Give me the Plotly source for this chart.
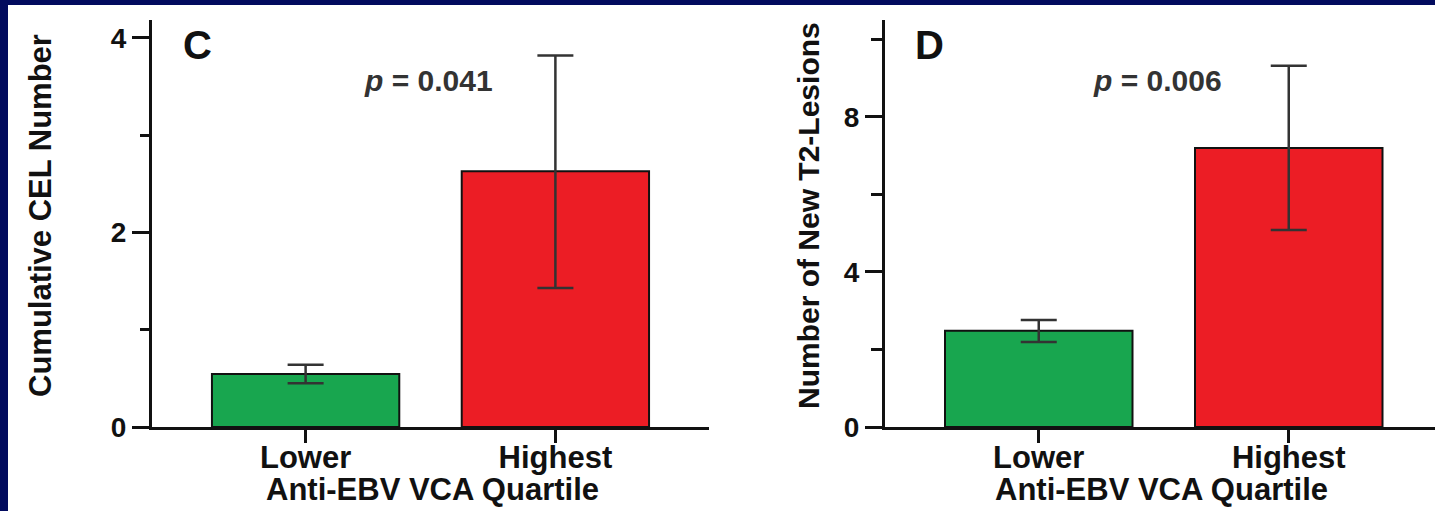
import plotly.graph_objects as go

W, H = 1435, 511

categories = ["Lower", "Highest"]
bar_colors = ["#18a64f", "#ec1d25"]

# Panel C: Cumulative CEL Number
c_values = [0.545, 2.63]
c_err_plus = [0.095, 1.19]
c_err_minus = [0.095, 1.2]
c_yticks = [0, 2, 4]
c_pvalue = "<i>p</i> = 0.041"

# Panel D: Number of New T2-Lesions
d_values = [2.48, 7.2]
d_err_plus = [0.28, 2.12]
d_err_minus = [0.29, 2.12]
d_yticks = [0, 4, 8]
d_pvalue = "<i>p</i> = 0.006"

FONT = "Liberation Sans, Arial, sans-serif"
NAVY = "#020b5e"


def px_x(x):
    return x / W


def px_y(y):
    return 1 - y / H


fig = go.Figure()

for i, (vals, ep, em) in enumerate([(c_values, c_err_plus, c_err_minus),
                                    (d_values, d_err_plus, d_err_minus)]):
    fig.add_trace(go.Bar(
        x=categories, y=vals,
        marker=dict(color=bar_colors, line=dict(color="#111111", width=2)),
        width=0.75,
        error_y=dict(type="data", array=ep, arrayminus=em, color="#333333",
                     thickness=2.5, width=18),
        xaxis="x" if i == 0 else "x2",
        yaxis="y" if i == 0 else "y2",
        showlegend=False,
    ))

tickfont = dict(family=FONT, size=31, color="#111111", weight="bold")
ytickfont = dict(family=FONT, size=28, color="#111111", weight="bold")

common_x = dict(showline=True, linecolor="#111111", linewidth=3, ticks="outside",
                ticklen=13, tickwidth=3, tickcolor="#111111", tickfont=tickfont,
                ticklabelstandoff=-12,
                showgrid=False, zeroline=False, automargin=False)
common_y = dict(showline=True, linecolor="#111111", linewidth=3, ticks="outside",
                ticklen=17, tickwidth=3, tickcolor="#111111", tickfont=ytickfont,
                showgrid=False, zeroline=False, tickmode="array", automargin=False)

ydom = [px_y(427), px_y(20)]

fig.update_layout(
    template="none",
    width=W, height=H,
    margin=dict(l=0, r=0, t=0, b=0, pad=0),
    paper_bgcolor=NAVY,
    plot_bgcolor="rgba(0,0,0,0)",
    xaxis=dict(domain=[px_x(152), px_x(709)], range=[-0.615, 1.615],
               anchor="y", **common_x),
    yaxis=dict(domain=ydom, range=[0, 4.185], anchor="x", tickvals=c_yticks,
               minor=dict(dtick=1, ticks="outside", ticklen=9, tickwidth=3,
                          tickcolor="#111111", showgrid=False),
               **common_y),
    xaxis2=dict(domain=[px_x(885), 1.0], range=[-0.615, 1.585],
                anchor="y2", **common_x),
    yaxis2=dict(domain=ydom, range=[0, 10.5], anchor="x2", tickvals=d_yticks,
                minor=dict(dtick=2, ticks="outside", ticklen=11, tickwidth=3,
                           tickcolor="#111111", showgrid=False),
                **common_y),
    shapes=[dict(type="rect", xref="paper", yref="paper", layer="below",
                 x0=px_x(8), x1=1.0, y0=0, y1=px_y(5),
                 fillcolor="white", line=dict(width=0))],
)

annots = [
    dict(text="<b>C</b>", x=px_x(181), y=px_y(45), xanchor="left", yanchor="middle",
         font=dict(family=FONT, size=40, color="#111111")),
    dict(text="<b>D</b>", x=px_x(913), y=px_y(45), xanchor="left", yanchor="middle",
         font=dict(family=FONT, size=40, color="#111111")),
    dict(text="<b>" + c_pvalue + "</b>", x=px_x(428), y=px_y(80), xanchor="center",
         yanchor="middle", font=dict(family=FONT, size=30, color="#333333")),
    dict(text="<b>" + d_pvalue + "</b>", x=px_x(1157), y=px_y(80), xanchor="center",
         yanchor="middle", font=dict(family=FONT, size=30, color="#333333")),
    dict(text="<b>Anti-EBV VCA Quartile</b>", x=px_x(432), y=px_y(489),
         xanchor="center", yanchor="middle",
         font=dict(family=FONT, size=31, color="#111111")),
    dict(text="<b>Anti-EBV VCA Quartile</b>", x=px_x(1161), y=px_y(489),
         xanchor="center", yanchor="middle",
         font=dict(family=FONT, size=31, color="#111111")),
    dict(text="<b>Cumulative CEL Number</b>", x=px_x(40), y=px_y(216), textangle=-90,
         xanchor="center", yanchor="middle",
         font=dict(family=FONT, size=31, color="#111111")),
    dict(text="<b>Number of New T2-Lesions</b>", x=px_x(808), y=px_y(216), textangle=-90,
         xanchor="center", yanchor="middle",
         font=dict(family=FONT, size=30, color="#111111")),
]
for a in annots:
    a.update(xref="paper", yref="paper", showarrow=False)
fig.update_layout(annotations=annots)

fig.write_html("out.html")
